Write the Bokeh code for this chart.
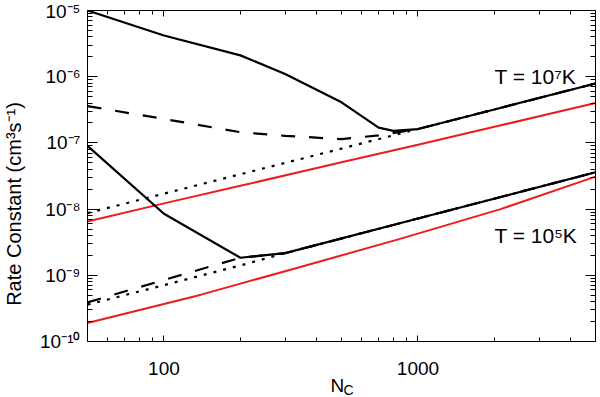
import math
from bokeh.plotting import figure
from bokeh.models import LogAxis, FixedTicker, Label, CustomJSTickFormatter, Range1d
from bokeh.embed import file_html
from bokeh.resources import INLINE

# ---------------- data ----------------
# T = 1e7 K group
nc_hot_solid = [50, 100, 200, 300, 500, 700, 800, 1000, 2000, 5000]
k_hot_solid = [1.0e-5, 4.2e-6, 2.1e-6, 1.1e-6, 4.1e-7, 1.7e-7, 1.52e-7, 1.62e-7, 3.2e-7, 7.9e-7]
nc_hot_dashed = [50, 100, 200, 300, 500, 700, 1000, 2000, 5000]
k_hot_dashed = [3.6e-7, 2.3e-7, 1.45e-7, 1.28e-7, 1.14e-7, 1.3e-7, 1.62e-7, 3.2e-7, 7.9e-7]
nc_hot_dotted = [50, 100, 200, 500, 1000, 2000, 5000]
k_hot_dotted = [8.7e-9, 1.71e-8, 3.36e-8, 8.2e-8, 1.62e-7, 3.2e-7, 7.9e-7]
nc_hot_red = [50, 100, 200, 500, 1000, 2000, 5000]
k_hot_red = [6.5e-9, 1.22e-8, 2.25e-8, 5.1e-8, 9.4e-8, 1.75e-7, 4.0e-7]

# T = 1e5 K group
nc_cold_solid = [50, 100, 200, 300, 1000, 5000]
k_cold_solid = [9.0e-8, 8.5e-9, 1.84e-9, 2.16e-9, 7.2e-9, 3.6e-8]
nc_cold_dashed = [50, 100, 200, 300, 1000, 5000]
k_cold_dashed = [3.9e-10, 8.5e-10, 1.84e-9, 2.16e-9, 7.2e-9, 3.6e-8]
nc_cold_dotted = [50, 100, 200, 300, 1000, 5000]
k_cold_dotted = [3.6e-10, 7.1e-10, 1.41e-9, 2.16e-9, 7.2e-9, 3.6e-8]
nc_cold_red = [50, 140, 350, 850, 2100, 5000]
k_cold_red = [1.9e-10, 5.1e-10, 1.36e-9, 3.55e-9, 9.9e-9, 3.1e-8]

# axis ticks / labels
x_lo, x_hi = 50, 5000
y_lo, y_hi = 1e-10, 1e-5
x_major_ticks = [100, 1000]
x_major_labels = ["100", "1000"]
x_minor_ticks = [50, 60, 70, 80, 90, 200, 300, 400, 500, 600, 700, 800, 900,
                 2000, 3000, 4000, 5000]
y_exponents = [-10, -9, -8, -7, -6, -5]
y_major_ticks = [10.0 ** e for e in y_exponents]
y_minor_ticks = [m * 10.0 ** e for e in y_exponents[:-1] for m in range(2, 10)]

x_label_main = "N"
x_label_sub = "C"
y_label = "Rate Constant (cm\u00b3s\u207b\u00b9)"
note_hot = "T = 10\u2077K"
note_cold = "T = 10\u2075K"

FONT = "Liberation Sans"
RED = "#ee1c1c"

# layout geometry (pixels)
H, W = 397, 600
TOP, LEFT, RIGHT = 10, 87, 5
AXIS_BOTTOM_PX = 341          # where the lower axis sits on the page
# the frame runs to the canvas bottom so the x labels can live inside it;
# extend the y range on the same log scale so that y_lo sits at AXIS_BOTTOM_PX
px_per_decade = (AXIS_BOTTOM_PX - TOP) / (math.log10(y_hi) - math.log10(y_lo))
y_frame_lo = 10 ** (math.log10(y_lo) - (H - AXIS_BOTTOM_PX) / px_per_decade)

p = figure(width=W, height=H, x_axis_type="log", y_axis_type="log",
           x_axis_location=None,
           x_range=Range1d(x_lo, x_hi), y_range=Range1d(y_frame_lo, y_hi),
           output_backend="svg", toolbar_location=None,
           min_border_left=LEFT, min_border_right=RIGHT, min_border_top=TOP,
           min_border_bottom=0)
p.grid.visible = False
p.outline_line_color = None
p.background_fill_color = "white"
p.border_fill_color = "white"

# lines
p.line(nc_hot_red, k_hot_red, line_color=RED, line_width=2)
p.line(nc_cold_red, k_cold_red, line_color=RED, line_width=2)
p.line(nc_hot_dotted, k_hot_dotted, line_color="black", line_width=2.2, line_dash="3 7")
p.line(nc_cold_dotted, k_cold_dotted, line_color="black", line_width=2.2, line_dash="3 7")
p.line(nc_hot_dashed, k_hot_dashed, line_color="black", line_width=2.2, line_dash="14 14")
p.line(nc_cold_dashed, k_cold_dashed, line_color="black", line_width=2.2, line_dash="14 14")
p.line(nc_hot_solid, k_hot_solid, line_color="black", line_width=2.2)
p.line(nc_cold_solid, k_cold_solid, line_color="black", line_width=2.2)

blank = CustomJSTickFormatter(code="return ''")
sup_fmt = CustomJSTickFormatter(code="""
const sup = {"0":"\u2070","1":"\u00b9","2":"\u00b2","3":"\u00b3","4":"\u2074",
             "5":"\u2075","6":"\u2076","7":"\u2077","8":"\u2078","9":"\u2079","-":"\u207b"};
const e = Math.round(Math.log10(tick));
return "10" + String(e).split("").map(c => sup[c]).join("");
""")

def style_common(ax):
    ax.major_tick_out = 0
    ax.minor_tick_out = 0
    ax.axis_line_color = "black"
    ax.major_tick_line_color = "black"
    ax.minor_tick_line_color = "black"
    ax.major_label_text_font = FONT
    ax.major_label_text_color = "black"
    ax.axis_label_text_font = FONT
    ax.axis_label_text_font_style = "normal"
    ax.axis_label_text_color = "black"

def style_x(ax):
    style_common(ax)
    ax.ticker = FixedTicker(ticks=x_major_ticks, minor_ticks=x_minor_ticks)
    ax.major_tick_in = 6
    ax.minor_tick_in = 4
    ax.formatter = blank
    ax.major_label_standoff = 0
    ax.major_label_text_font_size = "1px"
    ax.axis_label = None

def style_y(ax, labels):
    style_common(ax)
    ax.ticker = FixedTicker(ticks=y_major_ticks, minor_ticks=y_minor_ticks)
    ax.bounds = (y_lo, y_hi)
    ax.major_tick_in = 10
    ax.minor_tick_in = 5
    if labels:
        ax.formatter = sup_fmt
        ax.major_label_text_font_size = "19px"
        ax.major_label_standoff = 7
        ax.axis_label = y_label
        ax.axis_label_text_font_size = "20px"
        ax.axis_label_standoff = 12
    else:
        ax.formatter = blank
        ax.major_label_standoff = 0
        ax.major_label_text_font_size = "1px"
        ax.axis_label = None

style_y(p.yaxis[0], True)
bottom_ax = LogAxis(fixed_location=y_lo)
style_x(bottom_ax)
p.add_layout(bottom_ax, "below")
top_ax = LogAxis()
style_x(top_ax)
p.add_layout(top_ax, "above")
right_ax = LogAxis()
style_y(right_ax, False)
p.add_layout(right_ax, "right")

# x tick labels and x title (inside the extended frame, below the lower axis)
for xv, lab in zip(x_major_ticks, x_major_labels):
    p.add_layout(Label(x=xv, y=H - 368, x_units="data", y_units="screen", text=lab,
                       text_align="center", text_baseline="alphabetic",
                       text_font=FONT, text_font_size="19px", text_color="black"))
p.add_layout(Label(x=330 - LEFT, y=H - 385, x_units="screen", y_units="screen",
                   text=x_label_main, text_align="left", text_baseline="alphabetic",
                   text_font=FONT, text_font_size="19px", text_color="black"))
p.add_layout(Label(x=343 - LEFT, y=H - 389, x_units="screen", y_units="screen",
                   text=x_label_sub, text_align="left", text_baseline="alphabetic",
                   text_font=FONT, text_font_size="14px", text_color="black"))

# temperature notes
p.add_layout(Label(x=2000, y=1.0e-6, text=note_hot, text_align="left",
                   text_baseline="alphabetic", text_font=FONT,
                   text_font_size="21px", text_color="black"))
p.add_layout(Label(x=2000, y=4.0e-9, text=note_cold, text_align="left",
                   text_baseline="alphabetic", text_font=FONT,
                   text_font_size="21px", text_color="black"))

open("out.html", "w").write(file_html(p, INLINE))
